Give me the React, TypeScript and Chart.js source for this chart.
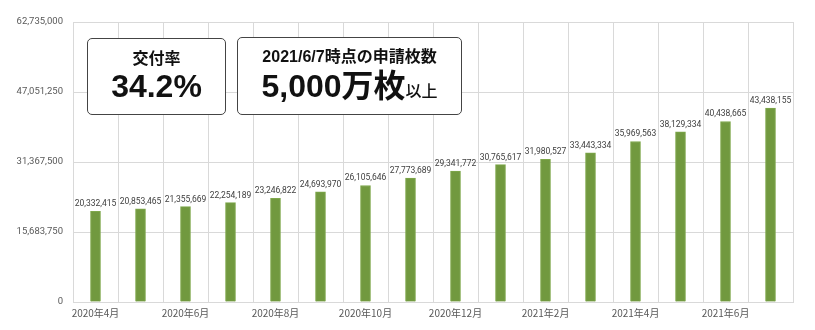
import React, { useEffect, useRef } from "react";
import { Chart, registerables } from "chart.js";

Chart.register(...registerables);

const categories = [
  "2020年4月", "2020年5月", "2020年6月", "2020年7月", "2020年8月", "2020年9月",
  "2020年10月", "2020年11月", "2020年12月", "2021年1月", "2021年2月", "2021年3月",
  "2021年4月", "2021年5月", "2021年6月", "2021年7月",
];
const shownLabels = [
  "2020年4月", "", "2020年6月", "", "2020年8月", "", "2020年10月", "",
  "2020年12月", "", "2021年2月", "", "2021年4月", "", "2021年6月", "",
];
const values = [
  20332415, 20853465, 21355669, 22254189, 23246822, 24693970, 26105646, 27773689,
  29341772, 30765617, 31980527, 33443334, 35969563, 38129334, 40438665, 43438155,
];
const yMax = 62735000;
const yStep = 15683750;

const fmt = (v: number) => v.toLocaleString("en-US");

const dataLabelPlugin = {
  id: "dataLabels",
  afterDatasetsDraw(chart: any) {
    const ctx = chart.ctx;
    const meta = chart.getDatasetMeta(0);
    ctx.save();
    ctx.font = '8.5px Roboto, "Liberation Sans", sans-serif';
    ctx.fillStyle = "#404040";
    ctx.textAlign = "center";
    ctx.textBaseline = "bottom";
    meta.data.forEach((bar: any, i: number) => {
      ctx.fillText(fmt(values[i]), bar.x, bar.y - 3);
    });
    ctx.restore();
  },
};

export default function App() {
  const ref = useRef<HTMLCanvasElement>(null);
  useEffect(() => {
    document.body.style.margin = "0";
    const chart = new Chart(ref.current!, {
      type: "bar",
      data: {
        labels: categories,
        datasets: [
          {
            data: values,
            backgroundColor: "#71993f",
            borderColor: "#7fa84c",
            borderWidth: 1,
            barThickness: 10,
          },
        ],
      },
      options: {
        animation: false,
        responsive: false,
        layout: { padding: { left: 0, right: 22, top: 22, bottom: 0 } },
        plugins: { legend: { display: false }, tooltip: { enabled: false } },
        scales: {
          x: {
            grid: { color: "#d9d9d9", drawTicks: false, offset: true },
            border: { display: true, color: "#d9d9d9" },
            ticks: {
              autoSkip: false,
              maxRotation: 0,
              padding: 5,
              color: "#595959",
              font: { size: 10, family: '"Noto Sans CJK JP", sans-serif' },
              callback: (_v: any, i: number) => shownLabels[i],
            },
            afterFit: (s: any) => { s.height = 28; },
          },
          y: {
            min: 0,
            max: yMax,
            grid: { color: "#d9d9d9", drawTicks: false },
            border: { display: false },
            ticks: {
              stepSize: yStep,
              padding: 10,
              color: "#595959",
              font: { size: 9.5, family: 'Roboto, "Liberation Sans", sans-serif' },
              callback: (v: any) => fmt(Number(v)),
            },
            afterFit: (s: any) => { s.width = 73; },
          },
        },
      },
      plugins: [dataLabelPlugin],
    });
    return () => chart.destroy();
  }, []);

  const boxStyle: React.CSSProperties = {
    position: "absolute",
    background: "#fff",
    border: "1.5px solid #444",
    borderRadius: 5,
    boxSizing: "border-box",
    fontFamily: '"Liberation Sans", "Noto Sans CJK JP", sans-serif',
    fontWeight: 700,
    color: "#111",
    textAlign: "center",
  };

  return (
    <div style={{ position: "absolute", left: 0, top: 0, width: 815, height: 330, background: "#fff" }}>
      <canvas ref={ref} width={815} height={330} style={{ display: "block" }} />
      <div style={{ ...boxStyle, left: 87, top: 38, width: 139, height: 77 }}>
        <div style={{ position: "absolute", left: 0, right: 0, top: 8, fontSize: 16, lineHeight: "20px", fontFamily: '"Noto Sans CJK JP", sans-serif' }}>
          交付率
        </div>
        <div style={{ position: "absolute", left: 0, right: 0, top: 29, fontSize: 32, lineHeight: "36px" }}>
          34.2%
        </div>
      </div>
      <div style={{ ...boxStyle, left: 237, top: 37, width: 225, height: 78 }}>
        <div style={{ position: "absolute", left: 0, right: 0, top: 9, fontSize: 16, lineHeight: "20px" }}>
          2021/6/7時点の申請枚数
        </div>
        <div style={{ position: "absolute", left: 0, right: 0, top: 30, fontSize: 32, lineHeight: "36px" }}>
          5,000万枚<span style={{ fontSize: 16, fontWeight: 500 }}>以上</span>
        </div>
      </div>
    </div>
  );
}
